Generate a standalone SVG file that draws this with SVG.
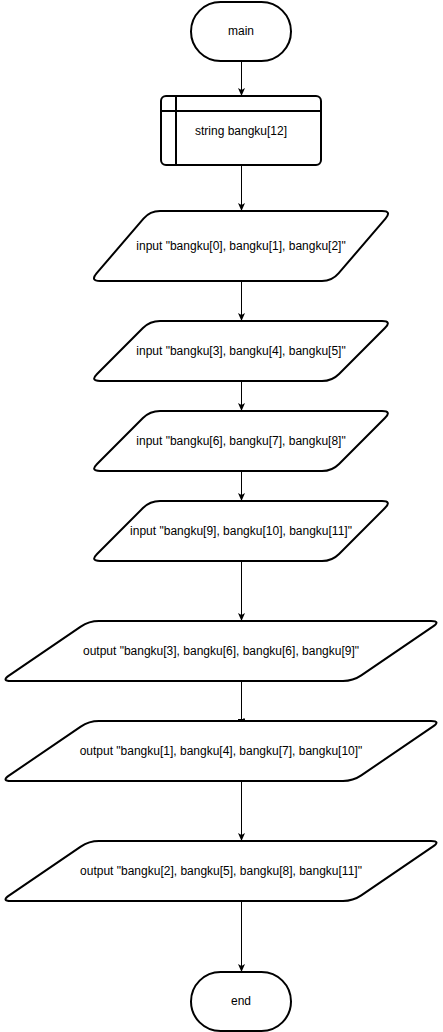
<svg xmlns="http://www.w3.org/2000/svg" width="443" height="1032" viewBox="0 0 443 1032">
<style>
.shape{fill:#fff;stroke:#000;stroke-width:2;stroke-linejoin:round}
.lbl{font-family:"Liberation Sans",Arial,Helvetica,sans-serif;font-size:12px;fill:#000;text-anchor:middle}
.conn{fill:none;stroke:#000;stroke-width:1}
</style>
<defs>
<marker id="arr" viewBox="0 0 8 7" refX="8" refY="3.5" markerWidth="8" markerHeight="7" markerUnits="userSpaceOnUse" orient="auto">
<path d="M0,0 L8,3.5 L0,7 L2,3.5 Z" fill="#000"/>
</marker>
</defs>
<rect width="443" height="1032" fill="#fff"/>
<g id="connectors">
<line class="conn" x1="241.5" y1="62" x2="241.5" y2="96" marker-end="url(#arr)"/>
<line class="conn" x1="241.5" y1="166" x2="241.5" y2="211" marker-end="url(#arr)"/>
<line class="conn" x1="241.5" y1="282" x2="241.5" y2="321" marker-end="url(#arr)"/>
<line class="conn" x1="241.5" y1="382" x2="241.5" y2="411" marker-end="url(#arr)"/>
<line class="conn" x1="241.5" y1="472" x2="241.5" y2="501" marker-end="url(#arr)"/>
<line class="conn" x1="241.5" y1="562" x2="241.5" y2="621" marker-end="url(#arr)"/>
<line class="conn" x1="241.5" y1="682" x2="241.5" y2="721"/>
<path class="conn" d="M238,719.5 L245,719.5 M243.5,718 L244.5,719"/>
<line class="conn" x1="241.5" y1="782" x2="241.5" y2="841" marker-end="url(#arr)"/>
<line class="conn" x1="241.5" y1="902" x2="241.5" y2="972" marker-end="url(#arr)"/>
</g>
<g id="main">
<rect class="shape" x="191" y="2" width="100" height="59" rx="29.5" ry="29.5"/>
<text class="lbl" x="241" y="35">main</text>
</g>
<g id="decl">
<rect class="shape" x="161" y="96" width="160" height="69" rx="5" ry="5"/>
<line x1="176" y1="96" x2="176" y2="165" stroke="#000" stroke-width="2"/>
<line x1="161" y1="111" x2="321" y2="111" stroke="#000" stroke-width="2"/>
<text class="lbl" x="241" y="135">string bangku[12]</text>
</g>
<g id="input1">
<path class="shape" d="M160,211 L382,211 Q392,211 385.49,218.59 L338.51,273.41 Q332,281 322,281 L100,281 Q90,281 96.51,273.41 L143.49,218.59 Q150,211 160,211 Z"/>
<text class="lbl" x="241" y="250">input "bangku[0], bangku[1], bangku[2]"</text>
</g>
<g id="input2">
<path class="shape" d="M160,321 L382,321 Q392,321 384.93,328.07 L339.07,373.93 Q332,381 322,381 L100,381 Q90,381 97.07,373.93 L142.93,328.07 Q150,321 160,321 Z"/>
<text class="lbl" x="241" y="355">input "bangku[3], bangku[4], bangku[5]"</text>
</g>
<g id="input3">
<path class="shape" d="M160,411 L382,411 Q392,411 384.93,418.07 L339.07,463.93 Q332,471 322,471 L100,471 Q90,471 97.07,463.93 L142.93,418.07 Q150,411 160,411 Z"/>
<text class="lbl" x="241" y="445">input "bangku[6], bangku[7], bangku[8]"</text>
</g>
<g id="input4">
<path class="shape" d="M160,501 L382,501 Q392,501 384.93,508.07 L339.07,553.93 Q332,561 322,561 L100,561 Q90,561 97.07,553.93 L142.93,508.07 Q150,501 160,501 Z"/>
<text class="lbl" x="241" y="535">input "bangku[9], bangku[10], bangku[11]"</text>
</g>
<g id="output1">
<path class="shape" d="M99,621 L431,621 Q441,621 432.74,626.63 L361.26,675.37 Q353,681 343,681 L11,681 Q1,681 9.26,675.37 L80.74,626.63 Q89,621 99,621 Z"/>
<text class="lbl" x="221" y="655">output "bangku[3], bangku[6], bangku[6], bangku[9]"</text>
</g>
<g id="output2">
<path class="shape" d="M99,721 L431,721 Q441,721 432.74,726.63 L361.26,775.37 Q353,781 343,781 L11,781 Q1,781 9.26,775.37 L80.74,726.63 Q89,721 99,721 Z"/>
<text class="lbl" x="221" y="755">output "bangku[1], bangku[4], bangku[7], bangku[10]"</text>
</g>
<g id="output3">
<path class="shape" d="M99,841 L431,841 Q441,841 432.74,846.63 L361.26,895.37 Q353,901 343,901 L11,901 Q1,901 9.26,895.37 L80.74,846.63 Q89,841 99,841 Z"/>
<text class="lbl" x="221" y="875">output "bangku[2], bangku[5], bangku[8], bangku[11]"</text>
</g>
<g id="end">
<rect class="shape" x="191" y="972" width="100" height="59" rx="29.5" ry="29.5"/>
<text class="lbl" x="241" y="1005">end</text>
</g>
</svg>
